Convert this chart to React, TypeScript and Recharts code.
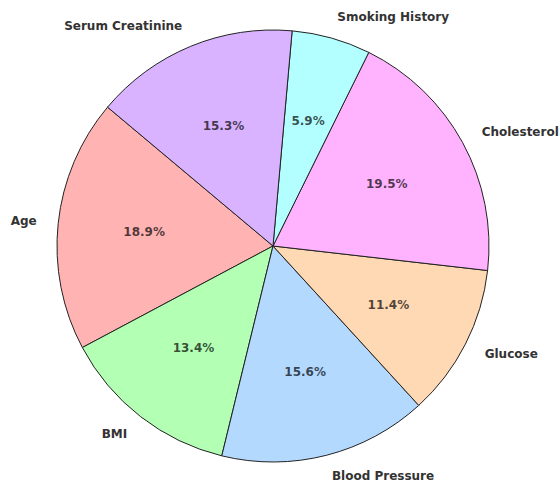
import React from "react";
import { PieChart, Pie, Cell } from "recharts";

const categories = ["Age", "BMI", "Blood Pressure", "Glucose", "Cholesterol", "Smoking History", "Serum Creatinine"];
const values = [18.9, 13.4, 15.6, 11.4, 19.5, 5.9, 15.3];
const colors = ["#ffb3b3", "#b3ffb3", "#b3d9ff", "#ffd9b3", "#ffb3ff", "#b3ffff", "#d9b3ff"];

const data = categories.map((name, i) => ({ name, value: values[i] }));
const RADIAN = Math.PI / 180;
const total = values.reduce((a, b) => a + b, 0);

const renderLabel = (props: any) => {
  const { cx, cy, midAngle, outerRadius, name, value, index } = props;
  const cos = Math.cos(-midAngle * RADIAN);
  const sin = Math.sin(-midAngle * RADIAN);
  const ox = cx + outerRadius * 1.1 * cos;
  const oy = cy + outerRadius * 1.1 * sin;
  const ix = cx + outerRadius * 0.6 * cos;
  const iy = cy + outerRadius * 0.6 * sin;
  const pct = ((value / total) * 100).toFixed(1) + "%";
  return (
    <g key={"lbl-" + index}>
      <text
        x={ox}
        y={oy}
        textAnchor={ox >= cx ? "start" : "end"}
        dominantBaseline="central"
        fontFamily="DejaVu Sans"
        fontWeight="bold"
        fontSize={12}
        fill="#333333"
      >
        {name}
      </text>
      <text
        x={ix}
        y={iy}
        textAnchor="middle"
        dominantBaseline="central"
        fontFamily="DejaVu Sans"
        fontWeight="bold"
        fontSize={12}
        fill="#000000"
        fillOpacity={0.7}
      >
        {pct}
      </text>
    </g>
  );
};

export default function App() {
  return (
    <div style={{ position: "absolute", left: 0, top: 0, width: 560, height: 481, background: "#fff" }}>
      <PieChart width={560} height={481} margin={{ top: 0, right: 0, bottom: 0, left: 0 }}>
        <Pie
          data={data}
          dataKey="value"
          nameKey="name"
          cx={273}
          cy={246}
          outerRadius={216}
          startAngle={140}
          endAngle={500}
          paddingAngle={0}
          stroke="#222222"
          strokeWidth={1}
          label={renderLabel}
          labelLine={false}
          isAnimationActive={false}
        >
          {data.map((d, i) => (
            <Cell key={d.name} fill={colors[i]} />
          ))}
        </Pie>
      </PieChart>
    </div>
  );
}
